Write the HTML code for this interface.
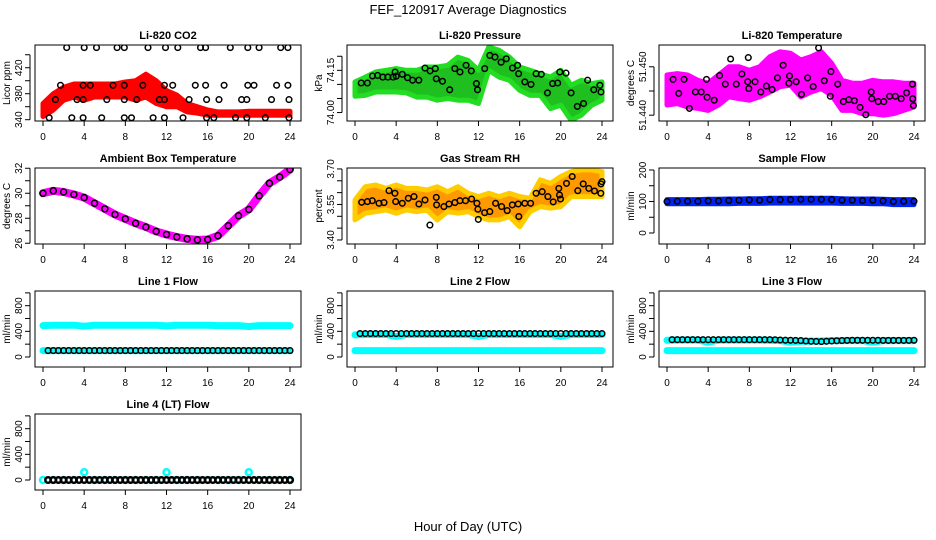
<!DOCTYPE html>
<html><head><meta charset="utf-8"><title>FEF_120917 Average Diagnostics</title>
<style>
html,body{margin:0;padding:0;background:#fff;}
svg{display:block;font-family:"Liberation Sans","DejaVu Sans",sans-serif;}
</style></head>
<body>
<svg id="chart" width="936" height="540" viewBox="0 0 936 540" xmlns="http://www.w3.org/2000/svg">
<text x="468" y="14" text-anchor="middle" font-size="13">FEF_120917  Average Diagnostics</text>
<text x="468" y="531" text-anchor="middle" font-size="13">Hour of Day (UTC)</text>
</svg>
<script>
// ---------- data ----------
const xTicks = [0, 4, 8, 12, 16, 20, 24];
const bandHours = [0,1,2,3,4,5,6,7,8,9,10,11,12,13,14,15,16,17,18,19,20,21,22,23,24];
const halfHours = [0.5,1,1.5,2,2.5,3,3.5,4,4.5,5,5.5,6,6.5,7,7.5,8,8.5,9,9.5,10,10.5,11,11.5,12,12.5,13,13.5,14,14.5,15,15.5,16,16.5,17,17.5,18,18.5,19,19.5,20,20.5,21,21.5,22,22.5,23,23.5,24];

// Li-820 CO2
const co2BandLo = [345,355,370,375,370,375,375,375,375,370,375,365,360,360,352,350,347,347,347,347,347,347,347,347,347];
const co2BandHi = [365,380,390,395,395,395,395,395,398,400,410,400,385,378,365,360,355,352,352,352,353,353,353,353,353];
const co2Hours = [2.3,4.0,5.2,7.2,7.9,10.2,11.9,13.1,15.3,15.8,18.2,19.9,21.0,23.1,23.8,
  1.7,3.9,4.6,6.8,7.9,9.7,11.8,12.6,14.8,15.8,17.6,19.9,20.5,22.7,23.8,
  1.2,3.3,3.9,6.2,7.9,9.1,11.3,11.8,14.2,15.9,17.1,19.3,19.8,22.2,23.9,
  0.6,2.8,3.9,5.7,7.9,8.6,10.7,11.8,13.6,15.9,16.6,18.7,19.8,21.6,23.9];
const co2Vals = [451,451,451,451,451,451,451,451,451,451,451,451,451,451,451,
  393,393,393,393,393,393,393,393,393,393,393,393,393,393,393,
  371,371,371,371,371,371,371,371,371,371,371,371,371,371,371,
  343,343,343,343,343,343,343,343,343,343,343,343,343,343,343];

// Li-820 Pressure
const presBandLo = [74.058,74.061,74.073,74.073,74.073,74.070,74.055,74.055,74.044,74.050,74.044,74.044,74.032,74.150,74.126,74.115,74.079,74.061,74.061,74.014,74.026,73.973,73.991,74.026,74.044];
const presBandHi = [74.109,74.126,74.144,74.150,74.156,74.150,74.150,74.162,74.162,74.168,74.197,74.185,74.150,74.233,74.221,74.197,74.162,74.150,74.138,74.126,74.150,74.097,74.115,74.103,74.109];
const presHours = [0.6,1.2,1.7,2.2,2.7,3.2,3.7,3.9,4.0,4.6,5.1,5.6,6.2,6.8,7.3,7.8,7.9,8.5,9.2,9.7,10.2,10.8,11.3,11.8,11.9,12.6,13.1,13.6,14.2,14.7,15.3,15.8,15.9,16.5,17.1,17.6,18.1,18.7,19.2,19.7,19.9,20.5,21.0,21.6,22.2,22.6,23.2,23.8,23.9];
const presVals = [74.105,74.105,74.130,74.132,74.126,74.126,74.126,74.144,74.129,74.136,74.124,74.115,74.115,74.158,74.148,74.156,74.120,74.111,74.081,74.156,74.144,74.168,74.148,74.103,74.081,74.156,74.203,74.197,74.179,74.191,74.158,74.168,74.138,74.109,74.100,74.138,74.136,74.070,74.103,74.105,74.144,74.140,74.070,74.022,74.032,74.115,74.081,74.097,74.073];

// Li-820 Temperature
const tempBandLo = [51.4421,51.4424,51.4417,51.4414,51.4410,51.4421,51.4438,51.4434,51.4431,51.4438,51.4448,51.4459,51.4462,51.4438,51.4448,51.4455,51.4441,51.4410,51.4410,51.4403,51.4403,51.4400,51.4403,51.4410,51.4417];
const tempBandHi = [51.4483,51.4486,51.4483,51.4472,51.4466,51.4483,51.4500,51.4500,51.4493,51.4500,51.4521,51.4531,51.4528,51.4514,51.4521,51.4531,51.4507,51.4472,51.4466,51.4466,51.4472,51.4469,51.4469,51.4466,51.4466];
const tempHours = [0.59,1.14,1.66,2.18,2.76,3.32,3.84,3.9,4.59,5.11,5.66,6.18,6.73,7.28,7.84,7.9,7.95,8.55,9.11,9.66,10.21,10.73,11.28,11.84,11.9,12.55,13.07,13.66,14.21,14.73,15.28,15.93,15.87,16.59,17.14,17.66,18.21,18.76,19.32,19.84,19.9,20.52,21.07,21.63,22.18,22.76,23.28,23.84,23.87,23.94];
const tempVals = [51.4474,51.4445,51.4474,51.4414,51.4448,51.4448,51.4474,51.4437,51.4431,51.4482,51.4464,51.4516,51.4464,51.4485,51.4469,51.4519,51.4455,51.4469,51.4448,51.4460,51.4453,51.4477,51.4503,51.4466,51.4481,51.4469,51.4443,51.4477,51.4459,51.4539,51.4471,51.4490,51.4439,51.4464,51.4428,51.4432,51.4430,51.4416,51.4401,51.4448,51.4434,51.4428,51.4428,51.4439,51.4439,51.4434,51.4446,51.4464,51.4434,51.4420];

// Ambient box temperature
const ambVals = [30.0,30.2,30.1,29.9,29.65,29.2,28.75,28.3,27.95,27.6,27.3,26.95,26.7,26.5,26.35,26.27,26.3,26.6,27.4,28.2,28.7,29.8,30.8,31.3,31.9];

// Gas stream RH
const rhBandLo = [3.485,3.513,3.520,3.527,3.513,3.527,3.520,3.527,3.485,3.520,3.513,3.520,3.499,3.485,3.485,3.499,3.456,3.520,3.541,3.534,3.541,3.583,3.583,3.583,3.583];
const rhBandHi = [3.569,3.625,3.632,3.618,3.632,3.618,3.618,3.611,3.625,3.604,3.625,3.597,3.583,3.597,3.583,3.597,3.583,3.576,3.654,3.639,3.668,3.689,3.696,3.696,3.689];
const rhHours = [0.65,1.2,1.68,2.33,2.82,3.3,3.88,3.95,4.6,5.18,5.73,6.21,6.8,7.28,7.9,7.93,8.64,9.13,9.71,10.19,10.74,11.33,11.84,11.94,11.98,12.59,13.1,13.66,14.24,14.79,15.28,15.86,15.92,16.5,17.06,17.6,18.19,18.74,19.26,19.8,19.87,19.97,20.55,21.1,21.65,22.17,22.72,23.27,23.88,23.9,24.0];
const rhVals = [3.559,3.562,3.566,3.555,3.558,3.608,3.597,3.562,3.555,3.576,3.583,3.552,3.569,3.463,3.580,3.548,3.541,3.552,3.558,3.566,3.566,3.573,3.555,3.530,3.487,3.515,3.520,3.555,3.541,3.524,3.548,3.552,3.499,3.555,3.555,3.597,3.604,3.583,3.561,3.618,3.590,3.573,3.639,3.668,3.608,3.637,3.618,3.607,3.597,3.637,3.646];

// Sample flow
const sampleBandLo = [93,93,93,93,93,93,93,94,94,94,95,95,95,95,95,95,95,94,94,94,93,93,90,90,90];
const sampleBandHi = [106,106,106,106,107,107,108,108,109,109,110,110,110,110,110,110,110,109,108,108,108,107,106,106,106];
const sampleVals = [100,101,101,101,102,102,103,104,105,104,106,106,106,107,107,107,106,104,104,103,104,102,100,101,101];

// Line flows
const line1Upper = [490,495,495,495,480,495,495,495,495,495,495,495,485,495,495,495,495,490,490,490,475,490,490,490,490];
const line1Lower = [100,100,100,100,100,100,100,100,100,100,100,100,100,100,100,100,100,100,100,100,100,100,100,100,100];
const line1Black = [100,100,100,100,100,100,100,100,100,100,100,100,100,100,100,100,100,100,100,100,100,100,100,100,100,100,100,100,100,100,100,100,100,100,100,100,100,100,100,100,100,100,100,100,100,100,100,100];
const line2Upper = [345,350,350,350,320,350,350,350,350,350,350,350,320,350,350,350,350,350,350,350,320,350,350,350,350];
const line2Lower = [100,100,100,100,100,100,100,100,100,100,100,100,100,100,100,100,100,100,100,100,100,100,100,100,100];
const line2Black = [365,365,365,365,365,365,365,365,365,365,365,365,365,365,365,365,365,365,365,365,365,365,365,365,365,365,365,365,365,365,365,365,365,365,365,365,365,365,365,365,365,365,365,365,365,365,365,365];
const line3Upper = [260,265,265,265,230,265,265,265,265,265,260,255,230,245,245,250,255,255,255,255,230,255,255,255,255];
const line3Lower = [100,100,100,100,100,100,100,100,100,100,100,100,100,100,100,100,100,100,100,100,100,100,100,100,100];
const line3Black = [270,270,270,270,270,270,270,270,270,270,270,270,270,270,270,270,270,270,270,270,268,265,262,260,258,255,250,245,243,240,245,250,252,255,258,260,260,260,260,260,260,258,258,258,258,258,258,260];
const line4Cyan = [0,0,0,0,120,0,0,0,0,0,0,0,120,0,0,0,0,0,0,0,120,0,0,0,0];
const line4Black = [0,0,0,0,0,0,0,0,0,0,0,0,0,0,0,0,0,0,0,0,0,0,0,0,0,0,0,0,0,0,0,0,0,0,0,0,0,0,0,0,0,0,0,0,0,0,0,0];

// ---------- drawing ----------
const svg = document.getElementById('chart');
const NS = 'http://www.w3.org/2000/svg';
function mk(tag, attrs, parent) {
  const e = document.createElementNS(NS, tag);
  for (const k in attrs) e.setAttribute(k, attrs[k]);
  (parent || svg).appendChild(e);
  return e;
}

function panel(cfg) {
  const left = cfg.col * 312 + 35, right = cfg.col * 312 + 301;
  const top = 45 + cfg.row * 123, bottom = top + 76;
  const xs = h => cfg.col * 312 + 43 + h * (247 / 24);
  const ys = v => bottom - (v - cfg.yMin) / (cfg.yMax - cfg.yMin) * (bottom - top);
  const g = mk('g', {});
  
  
  const clip = mk('clipPath', {id: 'clip-' + cfg.name}, g);
  mk('rect', {x: left, y: top, width: right - left, height: bottom - top}, clip);
  const plot = mk('g', {'clip-path': 'url(#clip-' + cfg.name + ')'}, g);
  
  
  (cfg.layers || []).forEach(L => {
    if (L.type === 'band') {
      let pts = L.hours.map((h, i) => xs(h).toFixed(1) + ',' + ys(L.hi[i]).toFixed(1));
      for (let i = L.hours.length - 1; i >= 0; i--) pts.push(xs(L.hours[i]).toFixed(1) + ',' + ys(L.lo[i]).toFixed(1));
      const p = mk('polygon', {points: pts.join(' '), fill: L.fill, stroke: L.stroke || L.fill, 'stroke-width': 5, 'stroke-linejoin': 'round'}, plot);
      
      
    } else if (L.type === 'line') {
      const p = mk('polyline', {points: L.hours.map((h, i) => xs(h).toFixed(1) + ',' + ys(L.vals[i]).toFixed(1)).join(' '), fill: 'none', stroke: L.color, 'stroke-width': L.width, 'stroke-linecap': 'round', 'stroke-linejoin': 'round'}, plot);
      
      
    } else if (L.type === 'points') {
      const pg = mk('g', {}, plot);
      
      
      L.hours.forEach((h, i) => {
        const c = mk('circle', {cx: xs(h).toFixed(1), cy: ys(L.vals[i]).toFixed(1), r: L.r || 2.8, fill: 'none', stroke: L.color, 'stroke-width': L.sw || 1.5}, pg);
        
        
      });
    }
  });
  const fr = mk('rect', {x: left, y: top, width: right - left, height: bottom - top, fill: 'none', stroke: '#000', 'stroke-width': 1}, g);
  
  
  const t = mk('text', {x: (left + right) / 2, y: top - 6, 'text-anchor': 'middle', 'font-size': 11, 'font-weight': 'bold'}, g);
  t.textContent = cfg.title;
  
  
  const xa = mk('g', {}, g);
  
  
  xTicks.forEach(v => {
    mk('line', {x1: xs(v), x2: xs(v), y1: bottom, y2: bottom + 5, stroke: '#000'}, xa);
    const tl = mk('text', {x: xs(v), y: bottom + 19, 'text-anchor': 'middle', 'font-size': 10}, xa);
    tl.textContent = v;
    
    
  });
  const ya = mk('g', {}, g);
  
  
  mk('line', {x1: left - 5, x2: left - 5, y1: ys(cfg.yTicks[0]), y2: ys(cfg.yTicks[cfg.yTicks.length - 1]), stroke: '#000'}, ya);
  cfg.yTicks.forEach((v, i) => {
    mk('line', {x1: left - 10, x2: left - 5, y1: ys(v), y2: ys(v), stroke: '#000'}, ya);
    if (cfg.yLabels[i]) {
      const tl = mk('text', {x: 0, y: 0, 'text-anchor': 'middle', 'font-size': 10, transform: 'translate(' + (left - 13) + ',' + ys(v) + ') rotate(-90)'}, ya);
      tl.textContent = cfg.yLabels[i];
      
      
    }
  });
  const yt = mk('text', {x: 0, y: 0, 'text-anchor': 'middle', 'font-size': 10, transform: 'translate(' + (left - 25) + ',' + ((top + bottom) / 2) + ') rotate(-90)'}, g);
  yt.textContent = cfg.yTitle;
  
  
}

const flowTicks = [0, 200, 400, 600, 800, 1000];
const flowLabels = ['0', '', '400', '', '800', ''];

panel({name: 'co2-panel', title: 'Li-820 CO2', col: 0, row: 0, yMin: 338, yMax: 455, yTitle: 'Licor ppm',
  yTicks: [340, 360, 380, 400, 420, 440], yLabels: ['340', '', '380', '', '420', ''],
  layers: [
    {type: 'band', name: 'co2-cloud', hours: bandHours, lo: co2BandLo, hi: co2BandHi, fill: '#ff0000'},
    {type: 'points', name: 'co2-hourly', hours: co2Hours, vals: co2Vals, color: '#000'}]});

panel({name: 'pressure-panel', title: 'Li-820 Pressure', col: 1, row: 0, yMin: 73.97, yMax: 74.24, yTitle: 'kPa',
  yTicks: [74.00, 74.05, 74.10, 74.15, 74.20], yLabels: ['74.00', '', '', '74.15', ''],
  layers: [
    {type: 'band', name: 'pressure-cloud', hours: bandHours, lo: presBandLo, hi: presBandHi, fill: '#1fbf1f', stroke: '#22dd22'},
    {type: 'points', name: 'pressure-hourly', hours: presHours, vals: presVals, color: '#000'}]});

panel({name: 'licor-temp-panel', title: 'Li-820 Temperature', col: 2, row: 0, yMin: 51.4388, yMax: 51.4545, yTitle: 'degrees C',
  yTicks: [51.440, 51.445, 51.450], yLabels: ['51.440', '', '51.450'],
  layers: [
    {type: 'band', name: 'licor-temp-cloud', hours: bandHours, lo: tempBandLo, hi: tempBandHi, fill: '#ff00ff'},
    {type: 'points', name: 'licor-temp-hourly', hours: tempHours, vals: tempVals, color: '#000'}]});

panel({name: 'ambient-panel', title: 'Ambient Box Temperature', col: 0, row: 1, yMin: 25.94, yMax: 32.02, yTitle: 'degrees C',
  yTicks: [26, 27, 28, 29, 30, 31, 32], yLabels: ['26', '', '28', '', '30', '', '32'],
  layers: [
    {type: 'line', name: 'ambient-cloud', hours: bandHours, vals: ambVals, color: '#ff00ff', width: 8},
    {type: 'points', name: 'ambient-hourly', hours: bandHours, vals: ambVals, color: '#000', r: 3}]});

panel({name: 'rh-panel', title: 'Gas Stream RH', col: 1, row: 1, yMin: 3.383, yMax: 3.704, yTitle: 'percent',
  yTicks: [3.40, 3.45, 3.50, 3.55, 3.60, 3.65, 3.70], yLabels: ['3.40', '', '', '3.55', '', '', '3.70'],
  layers: [
    {type: 'band', name: 'rh-cloud', hours: bandHours, lo: rhBandLo, hi: rhBandHi, fill: '#ff9900', stroke: '#ffcc00'},
    {type: 'points', name: 'rh-hourly', hours: rhHours, vals: rhVals, color: '#000'}]});

panel({name: 'sample-flow-panel', title: 'Sample Flow', col: 2, row: 1, yMin: -34.9, yMax: 206.3, yTitle: 'ml/min',
  yTicks: [0, 50, 100, 150, 200], yLabels: ['0', '', '100', '', '200'],
  layers: [
    {type: 'band', name: 'sample-flow-cloud', hours: bandHours, lo: sampleBandLo, hi: sampleBandHi, fill: '#0022ee'},
    {type: 'points', name: 'sample-flow-hourly', hours: bandHours, vals: sampleVals, color: '#000'}]});

panel({name: 'line1-panel', title: 'Line 1 Flow', col: 0, row: 2, yMin: -156, yMax: 1029, yTitle: 'ml/min',
  yTicks: flowTicks, yLabels: flowLabels,
  layers: [
    {type: 'line', name: 'line1-upper-cloud', hours: bandHours, vals: line1Upper, color: '#00ffff', width: 7},
    {type: 'line', name: 'line1-lower-cloud', hours: bandHours, vals: line1Lower, color: '#00ffff', width: 7},
    {type: 'points', name: 'line1-hourly', hours: halfHours, vals: line1Black, color: '#000', r: 2.8}]});

panel({name: 'line2-panel', title: 'Line 2 Flow', col: 1, row: 2, yMin: -156, yMax: 1029, yTitle: 'ml/min',
  yTicks: flowTicks, yLabels: flowLabels,
  layers: [
    {type: 'line', name: 'line2-upper-cloud', hours: bandHours, vals: line2Upper, color: '#00ffff', width: 7},
    {type: 'line', name: 'line2-lower-cloud', hours: bandHours, vals: line2Lower, color: '#00ffff', width: 7},
    {type: 'points', name: 'line2-hourly', hours: halfHours, vals: line2Black, color: '#000', r: 2.8}]});

panel({name: 'line3-panel', title: 'Line 3 Flow', col: 2, row: 2, yMin: -156, yMax: 1029, yTitle: 'ml/min',
  yTicks: flowTicks, yLabels: flowLabels,
  layers: [
    {type: 'line', name: 'line3-upper-cloud', hours: bandHours, vals: line3Upper, color: '#00ffff', width: 7},
    {type: 'line', name: 'line3-lower-cloud', hours: bandHours, vals: line3Lower, color: '#00ffff', width: 7},
    {type: 'points', name: 'line3-hourly', hours: halfHours, vals: line3Black, color: '#000', r: 2.8}]});

panel({name: 'line4-panel', title: 'Line 4 (LT) Flow', col: 0, row: 3, yMin: -156, yMax: 1029, yTitle: 'ml/min',
  yTicks: flowTicks, yLabels: flowLabels,
  layers: [
    {type: 'points', name: 'line4-cyan', hours: bandHours, vals: line4Cyan, color: '#00ffff', r: 3, sw: 2.5},
    {type: 'points', name: 'line4-hourly', hours: halfHours, vals: line4Black, color: '#000', r: 2.8, sw: 2.5}]});
</script>
</body></html>
